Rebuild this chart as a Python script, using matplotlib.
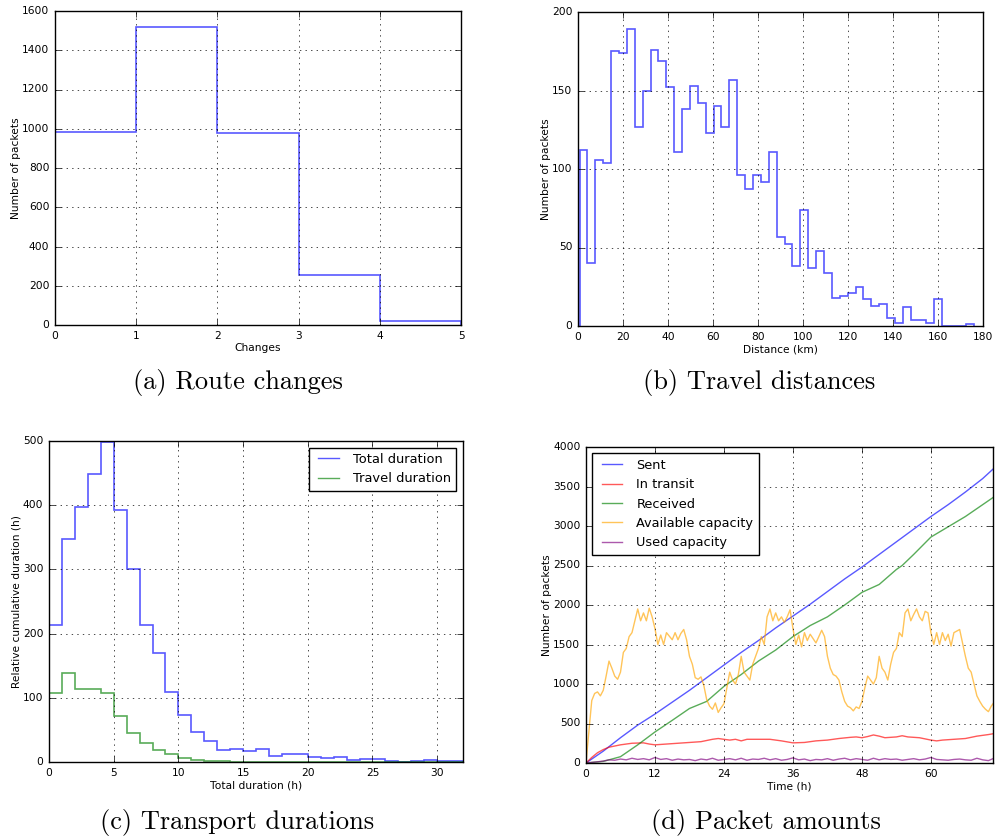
import matplotlib
matplotlib.use('Agg')
import matplotlib.pyplot as plt
import numpy as np

plt.style.use('classic')
plt.rcParams['figure.facecolor'] = 'white'
plt.rcParams['savefig.facecolor'] = 'white'
plt.rcParams['font.family'] = ['DejaVu Sans']

# (a) route changes
change_edges = [0, 1, 2, 3, 4, 5]
change_counts = [985, 1518, 980, 257, 18]

# (b) travel distances, 50 bins
dist_lo, dist_hi = 0.7, 175.9
dist_counts = [112, 40, 106, 104, 175, 174, 189, 127, 150, 176,
               169, 152, 111, 138, 153, 142, 123, 140, 127, 157,
               96, 87, 96, 92, 111, 57, 52, 38, 74, 37,
               48, 34, 18, 19, 21, 25, 17, 13, 14, 5,
               2, 12, 4, 4, 2, 17, 0, 0, 0, 1]

# (c) transport durations, 1 h bins
dur_edges = list(range(0, 33))
total_dur = [213, 348, 397, 449, 499, 392, 301, 213, 170, 109,
             73, 46, 33, 18, 20, 17, 20, 10, 12, 12,
             8, 7, 8, 3, 4, 4, 2, 0, 2, 3, 1, 1]
travel_dur = [107, 139, 114, 113, 108, 72, 45, 30, 19, 12,
              6, 3, 2, 1, 0.5, 0.5, 0.5, 0.5, 0.5, 0.5,
              0, 0, 0, 0, 0, 0, 0, 0, 0, 0, 0, 0]

# (d) packet amounts over time
t_sent = [0, 3, 6, 9, 12, 15, 18, 21, 24, 27, 30, 33, 36, 39, 42, 45, 48,
          51, 54, 57, 60, 63, 66, 69, 70.8]
sent = [0, 150, 320, 480, 620, 770, 920, 1080, 1240, 1400, 1550, 1710, 1860,
        2010, 2170, 2330, 2480, 2640, 2800, 2960, 3120, 3270, 3430, 3600, 3720]
t_recv = [0, 3, 6, 9, 12, 15, 18, 21, 24, 27, 30, 33, 36, 39, 42, 45, 48,
          51, 54, 55, 57, 60, 63, 66, 69, 70.8]
received = [0, 20, 80, 230, 393, 540, 690, 780, 970, 1120, 1290, 1430, 1600,
            1740, 1850, 2000, 2160, 2260, 2450, 2500, 2640, 2860, 2990, 3120,
            3270, 3360]
t_transit = [0, 1, 2, 3, 4, 5, 6, 8, 10, 11, 12, 14, 16, 18, 20, 22, 23, 24,
             25, 26, 27, 28, 30, 32, 34, 36, 38, 40, 42, 44, 46, 47, 48, 49,
             50, 51, 52, 54, 55, 56, 58, 60, 61, 62, 64, 66, 68, 70, 70.8]
transit = [0, 70, 130, 170, 200, 215, 230, 250, 255, 240, 230, 240, 250, 260,
           270, 300, 310, 300, 290, 300, 280, 300, 300, 300, 280, 255, 260,
           280, 290, 310, 325, 330, 320, 335, 355, 340, 320, 330, 345, 330,
           320, 290, 280, 290, 300, 310, 340, 360, 370]
t_avail = [0, 0.5, 1, 1.5, 2, 2.5, 3, 3.5, 4, 4.5, 5, 5.5, 6, 6.5, 7, 7.5, 8,
           8.5, 9, 9.5, 10, 10.5, 11, 11.5, 12, 12.5, 13, 13.5, 14, 15, 15.5,
           16, 16.5, 17, 17.5, 18, 18.5, 19, 19.5, 20, 20.5, 21, 21.5, 22,
           22.5, 23, 23.5, 24, 24.5, 25, 25.5, 26, 26.5, 27, 27.5, 28, 28.5,
           29, 29.5, 30, 30.5, 31, 31.5, 32, 32.5, 33, 33.5, 34, 34.5, 35,
           35.5, 36, 36.5, 37, 37.5, 38, 38.5, 39, 40, 40.5, 41, 41.5, 42,
           42.5, 43, 43.5, 44, 44.5, 45, 45.5, 46, 46.5, 47, 47.5, 48, 48.5,
           49, 49.5, 50, 50.5, 51, 51.5, 52, 52.5, 53, 53.5, 54, 54.5, 55,
           55.5, 56, 56.5, 57, 57.5, 58, 58.5, 59, 59.5, 60, 60.5, 61, 61.5,
           62, 62.5, 63, 63.5, 64, 65, 65.5, 66, 66.5, 67, 67.5, 68, 68.5,
           69, 69.5, 70, 70.5, 70.8]
avail = [0, 400, 790, 880, 900, 850, 920, 1100, 1290, 1200, 1100, 1060, 1150,
         1400, 1450, 1600, 1650, 1800, 1950, 1800, 1900, 1800, 1960, 1850,
         1700, 1500, 1620, 1500, 1650, 1560, 1650, 1560, 1640, 1690, 1560,
         1350, 1250, 1080, 1060, 1090, 980, 800, 720, 680, 760, 640, 700, 750,
         950, 1150, 1050, 1000, 1120, 1350, 1150, 1100, 1050, 1250, 1350,
         1450, 1600, 1500, 1850, 1950, 1800, 1900, 1800, 1850, 1780, 1850,
         1940, 1700, 1500, 1620, 1470, 1650, 1550, 1630, 1520, 1600, 1680,
         1600, 1350, 1200, 1120, 1100, 1050, 900, 780, 720, 700, 660, 710,
         690, 780, 950, 1100, 1050, 1000, 1080, 1350, 1200, 1150, 1050, 1250,
         1400, 1450, 1650, 1600, 1900, 1950, 1800, 1880, 1950, 1850, 1800,
         1920, 1900, 1650, 1500, 1650, 1500, 1650, 1550, 1630, 1480, 1650,
         1690, 1520, 1350, 1200, 1150, 1000, 850, 780, 720, 680, 650, 720,
         750]
t_used = [0, 1, 2, 3, 4, 5, 6, 7, 8, 9, 10, 11, 12, 13, 14, 15, 16, 17, 18,
          19, 20, 21, 22, 23, 24, 25, 26, 27, 28, 29, 30, 31, 32, 33, 34, 35,
          36, 37, 38, 39, 40, 41, 42, 43, 44, 45, 46, 47, 48, 49, 50, 51, 52,
          53, 54, 55, 56, 57, 58, 59, 60, 61, 62, 63, 64, 65, 66, 67, 68, 69,
          70, 70.8]
used = [0, 8, 15, 25, 40, 35, 50, 40, 60, 45, 55, 40, 70, 45, 55, 35, 50, 40,
        45, 30, 50, 40, 60, 35, 45, 55, 40, 60, 35, 50, 45, 60, 40, 55, 35,
        45, 65, 40, 50, 30, 45, 40, 55, 35, 50, 60, 40, 55, 45, 35, 60, 40,
        55, 45, 50, 35, 45, 55, 40, 50, 70, 45, 40, 35, 45, 50, 40, 35, 60,
        40, 30, 55]

W, H = 997, 840
fig = plt.figure(figsize=(W / 100, H / 100), dpi=100)


def box(l, r, t, b):
    return [l / W, 1 - b / H, (r - l) / W, (b - t) / H]


tick_fs = 7.7
lab_fs = 7.7
alpha = 0.65


def style(ax):
    ax.grid(True, linestyle=':', color='k')
    ax.tick_params(labelsize=tick_fs)


ax = fig.add_axes(box(55, 461, 11, 325))
ax.stairs(change_counts, change_edges, color='b', alpha=alpha, lw=1.2)
ax.set_xlim(0, 5)
ax.set_ylim(0, 1600)
ax.set_xlabel('Changes', fontsize=lab_fs, labelpad=2)
ax.set_ylabel('Number of packets', fontsize=lab_fs, labelpad=1)
style(ax)

ax = fig.add_axes(box(578, 983, 12, 326))
edges = np.linspace(dist_lo, dist_hi, len(dist_counts) + 1)
ax.stairs(dist_counts, edges, color='b', alpha=alpha, lw=1.2)
ax.set_xlim(0, 180)
ax.set_ylim(0, 200)
ax.set_yticks([0, 50, 100, 150, 200])
ax.set_xlabel('Distance (km)', fontsize=lab_fs, labelpad=2)
ax.set_ylabel('Number of packets', fontsize=lab_fs, labelpad=1)
style(ax)

ax = fig.add_axes(box(49, 463, 441, 762))
ax.stairs(total_dur, dur_edges, color='b', alpha=alpha, lw=1.2,
          label='Total duration')
ax.stairs(travel_dur, dur_edges, color='g', alpha=alpha, lw=1.2,
          label='Travel duration')
ax.set_xlim(0, 32)
ax.set_ylim(0, 500)
ax.set_xticks([0, 5, 10, 15, 20, 25, 30])
ax.set_xlabel('Total duration (h)', fontsize=lab_fs, labelpad=2)
ax.set_ylabel('Relative cumulative duration (h)', fontsize=lab_fs, labelpad=1)
style(ax)
h = [plt.Line2D([], [], color='b', alpha=alpha),
     plt.Line2D([], [], color='g', alpha=alpha)]
ax.legend(h, ['Total duration', 'Travel duration'], loc='upper right',
          fontsize=9.4, fancybox=False, handlelength=2.2)

ax = fig.add_axes(box(586, 993, 447, 763))
ax.plot(t_sent, sent, color='b', alpha=alpha, label='Sent')
ax.plot(t_transit, transit, color='r', alpha=alpha, label='In transit')
ax.plot(t_recv, received, color='g', alpha=alpha, label='Received')
ax.plot(t_avail, avail, color='orange', alpha=alpha, label='Available capacity')
ax.plot(t_used, used, color='purple', alpha=alpha, label='Used capacity')
ax.set_xlim(0, 70.8)
ax.set_ylim(0, 4000)
ax.set_xticks([0, 12, 24, 36, 48, 60])
ax.set_xlabel('Time (h)', fontsize=lab_fs, labelpad=2)
ax.set_ylabel('Number of packets', fontsize=lab_fs, labelpad=1)
style(ax)
ax.legend(loc='upper left', fontsize=9.3, fancybox=False, handlelength=2.2)

cap = dict(fontsize=19, family='cmr10', ha='center', va='center')
fig.text(238 / W, 1 - 383 / H, '(a) Route changes', **cap)
fig.text(759 / W, 1 - 383 / H, '(b) Travel distances', **cap)
fig.text(237 / W, 1 - 822 / H, '(c) Transport durations', **cap)
fig.text(766 / W, 1 - 822 / H, '(d) Packet amounts', **cap)

fig.savefig('out.png', dpi=100)
